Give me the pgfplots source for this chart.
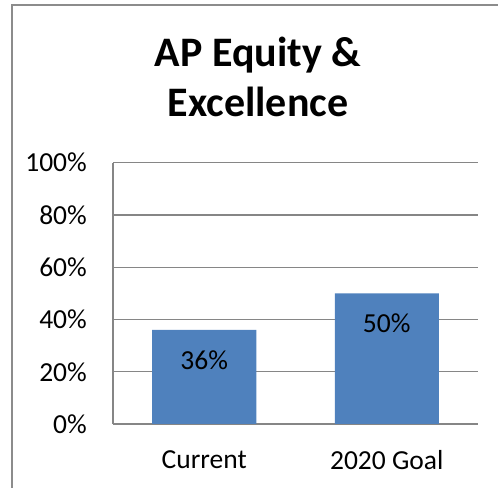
\documentclass[border=0pt]{standalone}
\usepackage{pgfplots}
\pgfplotsset{compat=1.18}
\usepackage{fontspec}
\setmainfont{Carlito}
\definecolor{barblue}{HTML}{4F81BD}
\definecolor{gridgray}{HTML}{868686}
\definecolor{bordergray}{HTML}{8C8C8C}
\begin{document}
\begin{tikzpicture}
\path[use as bounding box] (0,0) rectangle (498bp,488bp);
\draw[line width=2bp, bordergray] (12bp,-5bp) -- (12bp,483bp) -- (505bp,483bp);
\node[anchor=base, font=\fontsize{42bp}{50bp}\selectfont\bfseries] at (258bp,421.3bp) {AP Equity \&};
\node[anchor=base, font=\fontsize{42bp}{50bp}\selectfont\bfseries] at (258bp,371.3bp) {Excellence};
\begin{axis}[
  scale only axis,
  width=365bp, height=261.3bp,
  at={(113bp,64bp)}, anchor=south west,
  xmin=-0.5, xmax=1.5, ymin=0, ymax=100,
  ybar, bar width=104bp,
  xtick={0,1}, xticklabels={Current,2020 Goal},
  ytick={0,20,40,60,80,100},
  yticklabel={\pgfmathprintnumber{\tick}\%},
  /pgf/number format/assume math mode=true,
  major tick length=0pt,
  ymajorgrids,
  grid style={gridgray, line width=1.3bp},
  axis lines*=left,
  axis line style={-, draw=gridgray, line width=2bp},
  tick label style={font=\fontsize{27.5bp}{33bp}\selectfont, inner sep=0pt},
  yticklabel style={anchor=east, xshift=-26bp},
  xticklabel style={anchor=north, yshift=-26bp},
  nodes near coords={\pgfmathprintnumber{\pgfplotspointmeta}\%},
  every node near coord/.append style={anchor=center, yshift=-30bp, font=\fontsize{27.5bp}{33bp}\selectfont, text=black},
]
\addplot[fill=barblue, draw=none] coordinates {(0,36) (1,50)};
\end{axis}
\end{tikzpicture}
\end{document}
